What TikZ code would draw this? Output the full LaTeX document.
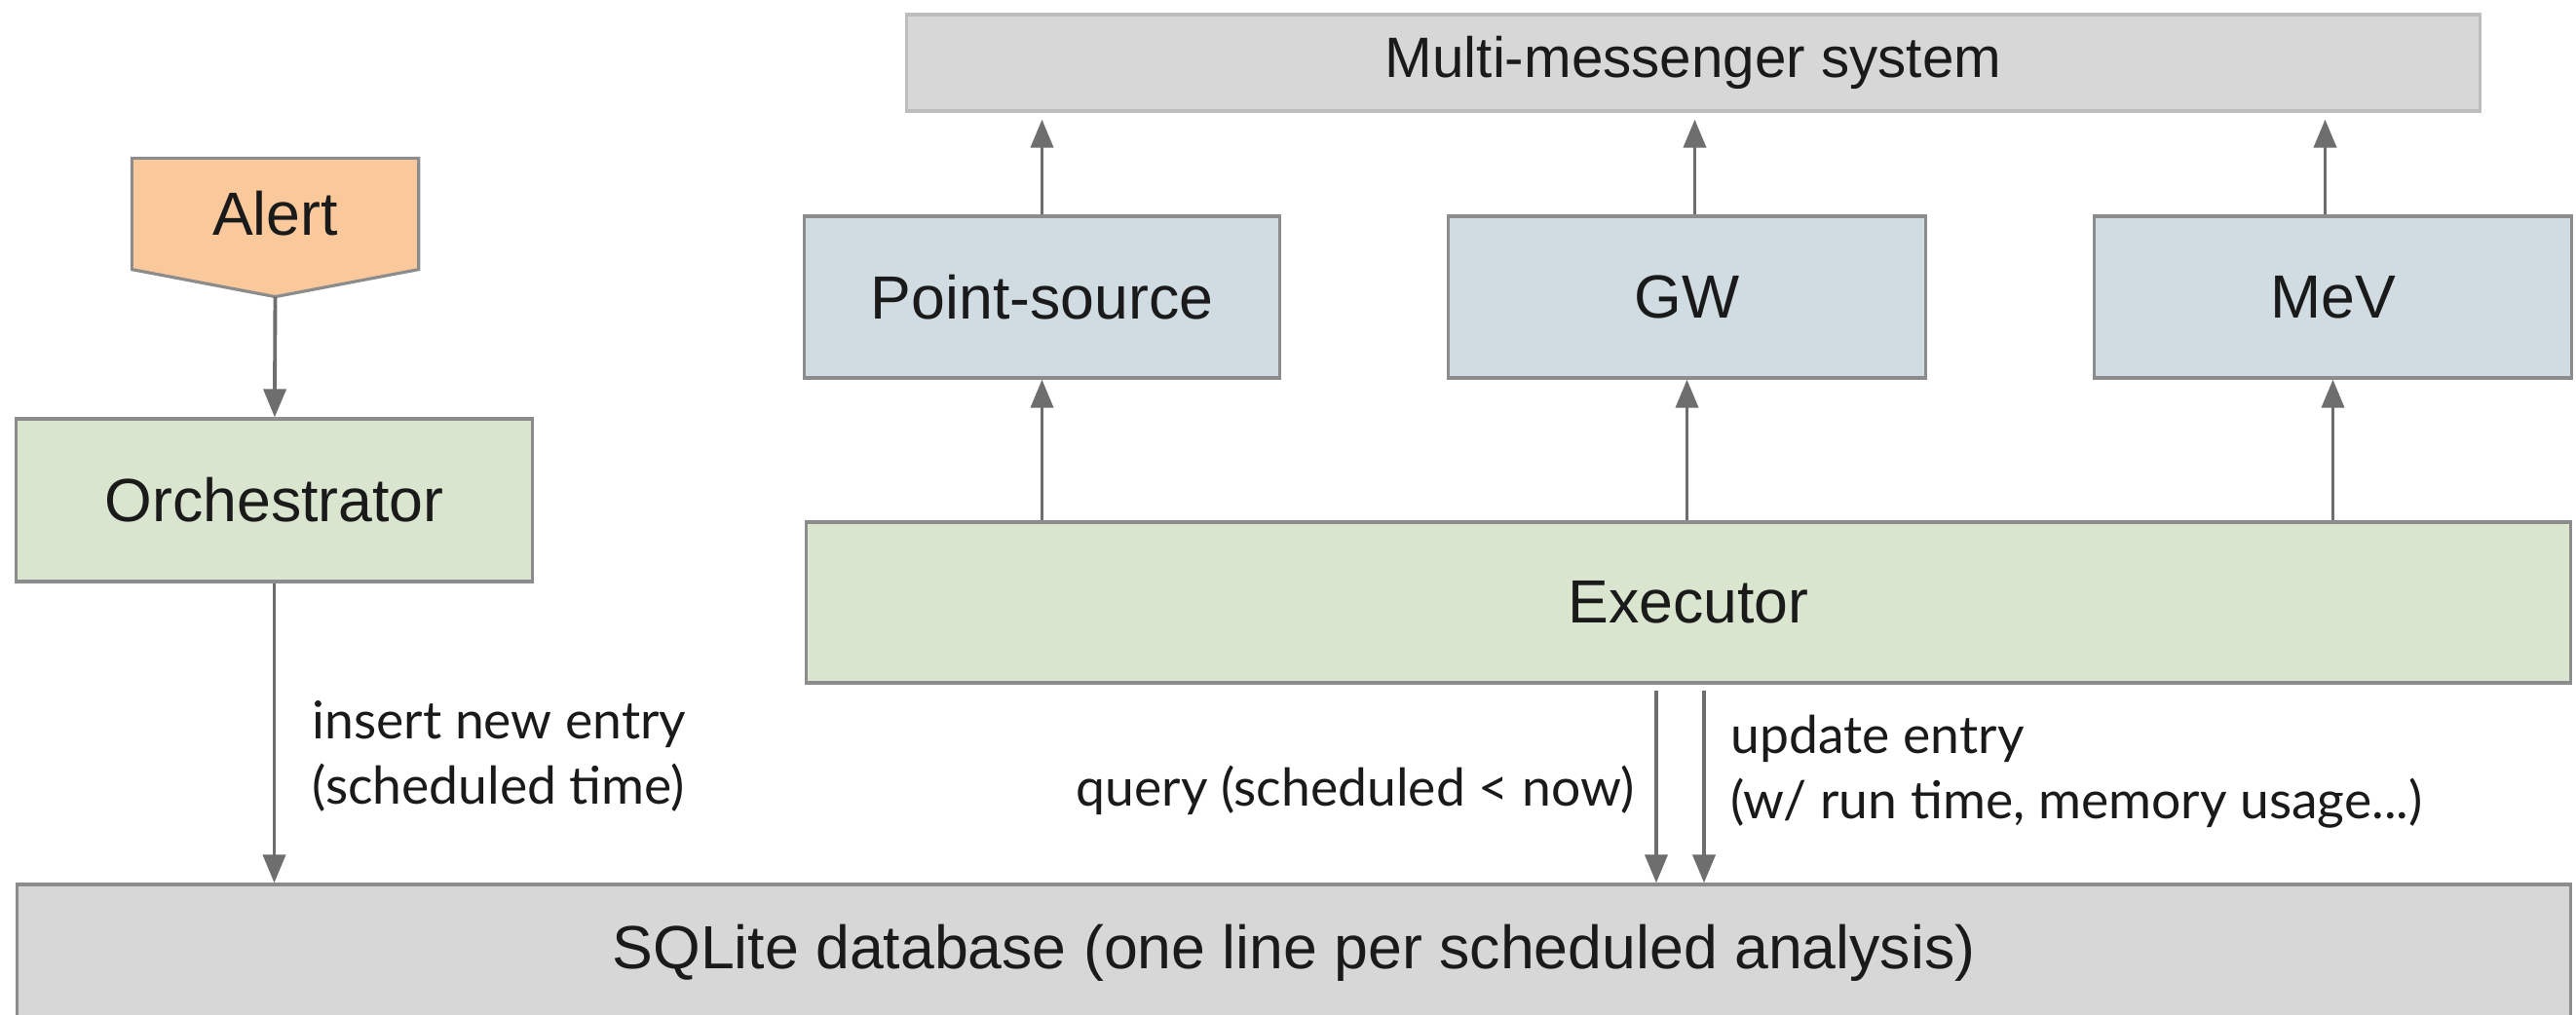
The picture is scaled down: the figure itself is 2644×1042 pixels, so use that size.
\documentclass[tikz,border=0pt]{standalone}
\usepackage{fontspec}
\setmainfont{Liberation Sans}
\newfontfamily\labelfont{Lato}
\usetikzlibrary{arrows.meta,backgrounds}

\definecolor{alertfill}{HTML}{F9C89B}
\definecolor{greenfill}{HTML}{D9E5CF}
\definecolor{bluefill}{HTML}{D0DCE2}
\definecolor{greyfill}{HTML}{D7D7D7}
\definecolor{edgegrey}{HTML}{8C8C8C}
\definecolor{lightedge}{HTML}{BDBDBD}
\definecolor{arrowgrey}{HTML}{6E6E6E}
\definecolor{textblack}{HTML}{1A1A1A}

\begin{document}
\begin{tikzpicture}[x=0.01cm, y=-0.01cm,
    box/.style={rectangle, draw=edgegrey, line width=0.9pt, inner sep=0pt, text=textblack,
        font=\fontsize{17.8}{21}\selectfont},
    lbl/.style={inner sep=0pt, align=left, text=textblack,
        font=\labelfont\fontsize{15.2}{19}\selectfont},
    arr/.style={-{Triangle[width=0.23cm,length=0.29cm]}, draw=arrowgrey, line width=1.1pt}]

    \clip (0,0) rectangle (2644,1042);

    % Top system
    \node[box, fill=greyfill, draw=lightedge, minimum width=16.14cm, minimum height=0.99cm,
        font=\fontsize{16.6}{20}\selectfont] (mms) at (1738,64.5) {Multi-messenger system};

    % Analyses
    \node[box, fill=bluefill, minimum width=4.87cm, minimum height=1.66cm] (ps) at (1069.5,305) {Point-source};
    \node[box, fill=bluefill, minimum width=4.89cm, minimum height=1.66cm] (gw) at (1731.5,305) {GW};
    \node[box, fill=bluefill, minimum width=4.89cm, minimum height=1.66cm] (mev) at (2394.5,305) {MeV};

    % Executor
    \node[box, fill=greenfill, minimum width=18.1cm, minimum height=1.65cm] (exec) at (1733,618.5) {Executor};

    % Alert and orchestrator
    \node[box, draw=none, minimum width=2.91cm, minimum height=1.11cm] (alert) at (282.5,219.5) {Alert};
    \coordinate (alerttip) at ([yshift=-0.28cm]alert.south);
    \begin{scope}[on background layer]
        \draw[fill=alertfill, draw=edgegrey, line width=0.9pt] (alert.north west) -- (alert.north east)
            -- (alert.south east) -- (alerttip) -- (alert.south west) -- cycle;
    \end{scope}
    \node[box, fill=greenfill, minimum width=5.29cm, minimum height=1.67cm] (orch) at (281.5,513.5) {Orchestrator};

    % Database
    \node[box, fill=greyfill, minimum width=26.2cm, minimum height=1.4cm] (db) at (1328,978)
        {SQLite database (one line per scheduled analysis)};

    % Arrows
    \draw[arr] (alerttip) -- (orch);
    \draw[arr] (orch.south) -- (orch.south |- db.north);
    \draw[arr] (exec.north -| ps) -- (ps);
    \draw[arr] (exec.north -| gw) -- (gw);
    \draw[arr] (exec.north -| mev) -- (mev);
    \draw[arr, shorten >=0.07cm] (ps.north) -- (ps.north |- mms.south);
    \draw[arr, shorten >=0.07cm] ([xshift=0.08cm]gw.north) -- ([xshift=0.08cm]gw.north |- mms.south);
    \draw[arr, shorten >=0.07cm] ([xshift=-0.08cm]mev.north) -- ([xshift=-0.08cm]mev.north |- mms.south);
    \draw[arr, shorten <=0.06cm] ([xshift=-0.33cm]exec.south) -- ([xshift=-0.33cm]exec.south |- db.north);
    \draw[arr, shorten <=0.06cm] ([xshift=0.16cm]exec.south) -- ([xshift=0.16cm]exec.south |- db.north);

    % Labels
    \node[lbl, anchor=west] (inslbl) at (320,776) {insert new entry\\(scheduled time)};
    \node[lbl, anchor=east] (querylbl) at (1678,811) {query (scheduled < now)};
    \node[lbl, anchor=west] (updlbl) at (1776,792) {update entry\\(w/ run time, memory usage...)};
\end{tikzpicture}
\end{document}
